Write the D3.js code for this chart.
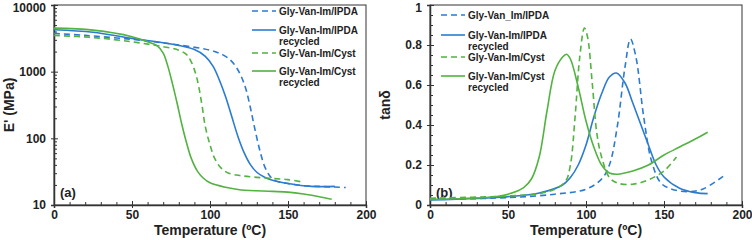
<!DOCTYPE html>
<html>
<head>
<meta charset="utf-8">
<script src="https://cdn.jsdelivr.net/npm/d3@7"></script>
<style>
  body { margin: 0; background: #fff; }
  text { font-family: "Liberation Sans", Arial, sans-serif; font-weight: bold; fill: #222; }
</style>
</head>
<body>
<svg id="chart" width="752" height="240"></svg>
<script>
var blue = '#2b7bd1';
var green = '#52b340';

// E' (MPa) vs temperature, panel (a)
var tIpdaE = [0, 20, 50, 75, 100, 108, 113, 117, 120, 123, 126, 129, 132, 135, 138, 142, 150, 160, 170, 180, 187];
var eIpda = [3750, 3500, 3050, 2600, 2100, 1800, 1500, 1150, 850, 550, 280, 130, 65, 38, 28, 23, 21, 19.5, 19, 18.6, 18.3];
var tIpdaRecE = [0, 25, 50, 75, 90, 97, 102, 106, 110, 114, 118, 122, 126, 130, 135, 140, 150, 165, 180];
var eIpdaRec = [4250, 3900, 3160, 2600, 2150, 1700, 1200, 750, 420, 210, 105, 60, 40, 31, 26, 23.5, 21, 19, 19];
var tCystE = [0, 25, 50, 70, 80, 85, 88, 91, 93, 95, 97, 100, 103, 107, 112, 120, 130, 140, 150, 160];
var eCyst = [3500, 3250, 2800, 2370, 2100, 1800, 1400, 900, 560, 300, 150, 80, 50, 36, 30, 27.5, 26, 25, 24, 22];
var tCystRecE = [0, 25, 50, 60, 66, 70, 73, 76, 79, 82, 85, 88, 92, 96, 100, 110, 120, 140, 150, 160, 170, 178];
var eCystRec = [4500, 4200, 3350, 2800, 2450, 1900, 1200, 650, 330, 160, 85, 50, 32, 25, 21.5, 18.4, 16.8, 16, 15.6, 14.6, 13.3, 12.2];

// tan delta vs temperature, panel (b)
var tIpdaT = [0, 50, 80, 100, 110, 115, 120, 125, 128.5, 132, 137, 142, 148, 155, 165, 175, 189];
var dIpda = [0.028, 0.037, 0.054, 0.079, 0.13, 0.2, 0.39, 0.69, 0.83, 0.74, 0.44, 0.22, 0.11, 0.079, 0.067, 0.08, 0.15];
var tIpdaRecT = [0, 50, 70, 85, 90, 95, 100, 105, 110, 115, 119.5, 125, 130, 135, 140, 145, 150, 160, 170, 178];
var dIpdaRec = [0.025, 0.042, 0.06, 0.1, 0.137, 0.2, 0.3, 0.44, 0.556, 0.64, 0.66, 0.61, 0.51, 0.405, 0.3, 0.2, 0.14, 0.084, 0.062, 0.057];
var tCystT = [0, 50, 70, 80, 87, 90, 93, 96, 99, 101, 104, 107, 110, 115, 120, 130, 140, 150, 158];
var dCyst = [0.034, 0.045, 0.057, 0.079, 0.12, 0.2, 0.44, 0.74, 0.885, 0.84, 0.61, 0.355, 0.24, 0.137, 0.11, 0.104, 0.126, 0.17, 0.24];
var tCystRecT = [0, 40, 50, 60, 65, 70, 75, 80, 85, 87.5, 90, 95, 100, 105, 110, 115, 120, 130, 140, 150, 160, 170, 178];
var dCystRec = [0.028, 0.04, 0.054, 0.087, 0.13, 0.24, 0.47, 0.67, 0.74, 0.754, 0.73, 0.59, 0.42, 0.29, 0.2, 0.16, 0.154, 0.17, 0.2, 0.25, 0.29, 0.33, 0.364];

var xTicks = [0, 50, 100, 150, 200];
var eTicks = [10, 100, 1000, 10000];
var dTicks = [0, 0.2, 0.4, 0.6, 0.8, 1];

var legendA = ['Gly-Van-Im/IPDA', 'Gly-Van-Im/IPDA|recycled', 'Gly-Van-Im/Cyst', 'Gly-Van-Im/Cyst|recycled'];
var legendB = ['Gly-Van_Im/IPDA', 'Gly-Van-Im/IPDA|recycled', 'Gly-Van-Im/Cyst', 'Gly-Van-Im/Cyst|recycled'];

var svg = d3.select('#chart');
var top_ = 5, bottom = 205;

function zip(xs, ys) {
  return xs.map(function(x, i) { return [x, ys[i]]; });
}

function panel(opt) {
  var g = svg.append('g');
  var x = d3.scaleLinear().domain([0, 200]).range([opt.left, opt.left + 312]);
  var y = opt.y;

  // frame
  g.append('rect')
    .attr('x', opt.left).attr('y', top_)
    .attr('width', 312).attr('height', bottom - top_)
    .attr('fill', 'none').attr('stroke', '#333').attr('stroke-width', 1);

  // minor ticks (inside)
  g.append('g').attr('transform', 'translate(0,' + bottom + ')')
    .call(d3.axisBottom(x).tickValues(d3.range(0, 201, 10)).tickSize(-3).tickFormat(''))
    .call(function(a) { a.select('.domain').remove(); });
  g.append('g').attr('transform', 'translate(' + opt.left + ',0)')
    .call(d3.axisLeft(y).tickValues(opt.minor).tickSize(-3).tickFormat(''))
    .call(function(a) { a.select('.domain').remove(); });

  // major ticks crossing the axis
  g.append('g').attr('transform', 'translate(0,' + bottom + ')')
    .call(d3.axisBottom(x).tickValues(xTicks).tickSize(-4).tickFormat(''))
    .call(function(a) { a.select('.domain').remove(); });
  g.append('g').attr('transform', 'translate(' + opt.left + ',0)')
    .call(d3.axisLeft(y).tickValues(opt.ticks).tickSize(-4).tickFormat(''))
    .call(function(a) { a.select('.domain').remove(); });

  var xa = g.append('g').attr('transform', 'translate(0,' + bottom + ')')
    .call(d3.axisBottom(x).tickValues(xTicks).tickSize(3).tickPadding(2).tickFormat(d3.format('d')));
  var ya = g.append('g').attr('transform', 'translate(' + opt.left + ',0)')
    .call(d3.axisLeft(y).tickValues(opt.ticks).tickSize(3).tickPadding(5).tickFormat(opt.fmt));
  [xa, ya].forEach(function(a) {
    a.select('.domain').attr('stroke', '#333').attr('stroke-width', 1.5);
    a.selectAll('text').attr('font-size', 12).attr('font-weight', 'bold')
      .attr('font-family', '"Liberation Sans", Arial, sans-serif').attr('fill', '#222');
  });
  // keep the top label inside the page
  ya.selectAll('.tick text').filter(function(d) { return d === opt.ticks[opt.ticks.length - 1]; })
    .attr('dy', '0.5em');
  g.selectAll('.tick line').attr('stroke', '#333');

  // axis titles
  g.append('text').attr('x', opt.left + 156).attr('y', 235)
    .attr('text-anchor', 'middle').attr('font-size', 14).text('Temperature (ºC)');
  g.append('text')
    .attr('transform', 'translate(' + (opt.left - 40) + ',105) rotate(-90)')
    .attr('text-anchor', 'middle').attr('font-size', 14).text(opt.ytitle);

  g.append('text').attr('x', opt.left + 6).attr('y', 197)
    .attr('font-size', 13).text(opt.tag);

  var line = d3.line()
    .x(function(d) { return x(d[0]); })
    .y(function(d) { return y(d[1]); })
    .curve(d3.curveCatmullRom.alpha(0.5));

  opt.series.forEach(function(s) {
    g.append('path')
      .datum(s.data)
      .attr('d', line)
      .attr('fill', 'none')
      .attr('stroke', s.color)
      .attr('stroke-width', 1.6)
      .attr('stroke-dasharray', s.dash ? '6,4' : null);
  });

  // legend
  var lg = g.append('g').attr('transform', 'translate(' + opt.legX + ',0)');
  opt.series.forEach(function(s, i) {
    var ly = opt.legY[i];
    lg.append('line').attr('x1', 0).attr('x2', 24).attr('y1', ly).attr('y2', ly)
      .attr('stroke', s.color).attr('stroke-width', 1.6)
      .attr('stroke-dasharray', s.dash ? '6,4' : null);
    var parts = opt.legend[i].split('|');
    parts.forEach(function(p, j) {
      lg.append('text').attr('x', 27).attr('y', ly + 3.5 + j * 11)
        .attr('font-size', 10).text(p);
    });
  });
}

var yE = d3.scaleLog().domain([10, 10000]).range([bottom, top_]);
var eMinor = [];
[10, 100, 1000].forEach(function(b) {
  for (var k = 2; k <= 9; k++) eMinor.push(b * k);
});

panel({
  left: 54,
  y: yE,
  ticks: eTicks,
  minor: eMinor,
  fmt: d3.format('d'),
  ytitle: "E' (MPa)",
  tag: '(a)',
  legX: 252,
  legY: [11, 30, 53, 71],
  legend: legendA,
  series: [
    { data: zip(tIpdaE, eIpda), color: blue, dash: true },
    { data: zip(tIpdaRecE, eIpdaRec), color: blue, dash: false },
    { data: zip(tCystE, eCyst), color: green, dash: true },
    { data: zip(tCystRecE, eCystRec), color: green, dash: false }
  ]
});

var yD = d3.scaleLinear().domain([0, 1]).range([bottom, top_]);
panel({
  left: 430,
  y: yD,
  ticks: dTicks,
  minor: d3.range(0, 1.001, 0.05),
  fmt: function(d) { return d === 0 || d === 1 ? d3.format('d')(d) : d3.format('.1f')(d); },
  ytitle: 'tanδ',
  tag: '(b)',
  legX: 441,
  legY: [15, 35, 57, 76],
  legend: legendB,
  series: [
    { data: zip(tIpdaT, dIpda), color: blue, dash: true },
    { data: zip(tIpdaRecT, dIpdaRec), color: blue, dash: false },
    { data: zip(tCystT, dCyst), color: green, dash: true },
    { data: zip(tCystRecT, dCystRec), color: green, dash: false }
  ]
});
</script>
</body>
</html>
